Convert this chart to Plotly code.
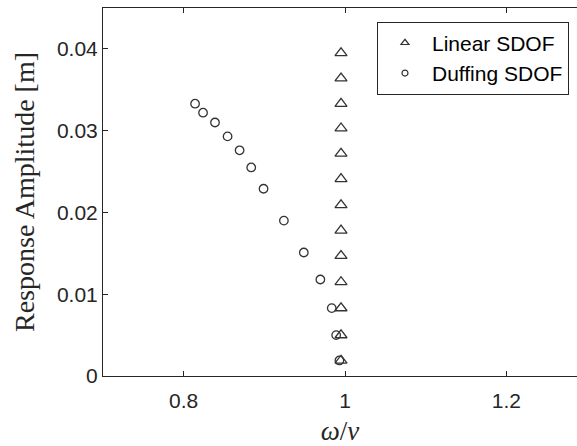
import plotly.graph_objects as go

# Frequency ratio and response amplitude for each model
linear_ratio = [0.995] * 13
linear_amp = [0.0019, 0.0050, 0.0083, 0.0115, 0.0147, 0.0178, 0.0209,
              0.0241, 0.0272, 0.0303, 0.0333, 0.0364, 0.0395]

duffing_ratio = [0.993, 0.989, 0.9835, 0.9694, 0.9489, 0.9242, 0.899,
                 0.8837, 0.8693, 0.8544, 0.8388, 0.824, 0.8141]
duffing_amp = [0.0019, 0.0050, 0.0083, 0.0118, 0.0151, 0.0190, 0.0229,
               0.0255, 0.0276, 0.0293, 0.0310, 0.0322, 0.0333]

x_ticks = [0.8, 1, 1.2]
y_ticks = [0, 0.01, 0.02, 0.03, 0.04]

ink = "#333333"
axis_col = "#262626"
serif = "Liberation Serif, Times New Roman, serif"

fig = go.Figure()

fig.add_trace(go.Scatter(
    x=linear_ratio, y=linear_amp, mode="markers", showlegend=False,
    marker=dict(symbol="triangle-up-open", size=10.5, color=ink,
                line=dict(width=1.3, color=ink)),
))
fig.add_trace(go.Scatter(
    x=duffing_ratio, y=duffing_amp, mode="markers", showlegend=False,
    marker=dict(symbol="circle-open", size=8.5, color=ink,
                line=dict(width=1.3, color=ink)),
))

# smaller glyphs for the legend entries
fig.add_trace(go.Scatter(
    x=[None], y=[None], mode="markers", name="Linear SDOF",
    marker=dict(symbol="triangle-up-open", size=7, color=ink,
                line=dict(width=1.2, color=ink)),
))
fig.add_trace(go.Scatter(
    x=[None], y=[None], mode="markers", name="Duffing SDOF",
    marker=dict(symbol="circle-open", size=6, color=ink,
                line=dict(width=1.2, color=ink)),
))

fig.update_layout(
    width=577, height=446,
    margin=dict(l=103, r=0, t=8, b=70),
    paper_bgcolor="white", plot_bgcolor="white",
    font=dict(family="Liberation Sans, Arial, sans-serif", size=21,
              color=axis_col),
    legend=dict(
        x=0.578, y=0.963, xanchor="left", yanchor="top",
        bgcolor="white", bordercolor=axis_col, borderwidth=1,
        font=dict(size=21, color="black"),
        itemwidth=44, tracegroupgap=0,
    ),
    xaxis=dict(
        range=[0.7, 1.2875], tickvals=x_ticks,
        ticktext=[str(v) for v in x_ticks],
        showgrid=False, zeroline=False,
        showline=True, linecolor=axis_col, linewidth=1,
        mirror="ticks", ticks="inside", ticklen=5, tickcolor=axis_col,
        ticklabelstandoff=6,
        title=dict(text="<i>ω</i>/<i>ν</i>", standoff=10,
                   font=dict(family=serif, size=27)),
    ),
    yaxis=dict(
        range=[0, 0.045], tickvals=y_ticks,
        ticktext=["0", "0.01", "0.02", "0.03", "0.04"],
        showgrid=False, zeroline=False,
        showline=True, linecolor=axis_col, linewidth=1,
        ticks="inside", ticklen=5, tickcolor=axis_col,
        title=dict(text="Response Amplitude [m]", standoff=14,
                   font=dict(family=serif, size=28)),
    ),
)

fig.write_html("out.html")
